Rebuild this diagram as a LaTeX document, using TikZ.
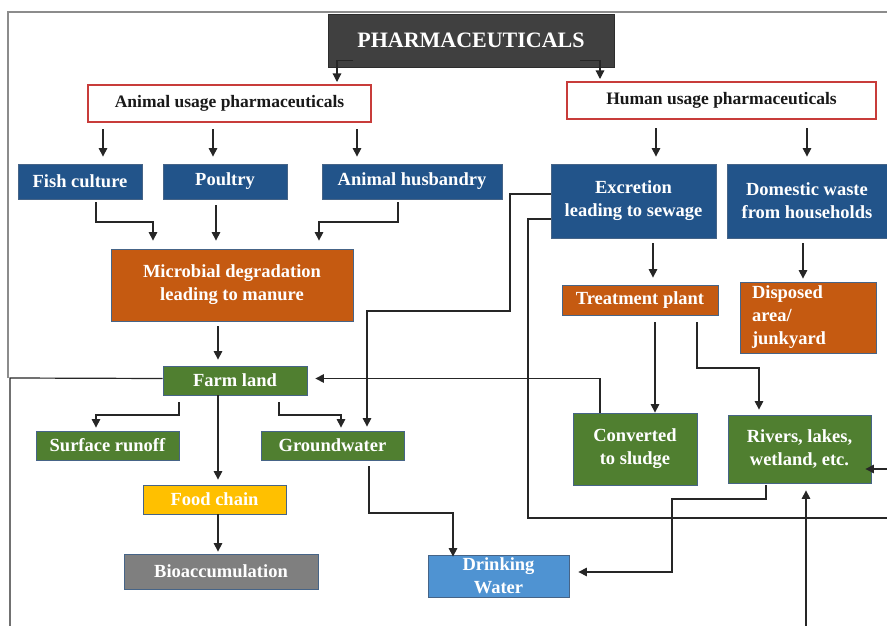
\documentclass[tikz,border=0pt]{standalone}
\usepackage{fontspec}
\setmainfont{Liberation Serif}
\usetikzlibrary{arrows.meta}
\definecolor{navy}{RGB}{34,84,138}
\definecolor{rust}{RGB}{197,90,17}
\definecolor{leaf}{RGB}{80,127,48}
\definecolor{gold}{RGB}{255,192,0}
\definecolor{ash}{RGB}{127,127,127}
\definecolor{sky}{RGB}{79,147,210}
\definecolor{charcoal}{RGB}{64,64,64}
\definecolor{brick}{RGB}{200,60,58}
\definecolor{edgeblue}{RGB}{70,100,135}
\begin{document}
\begin{tikzpicture}[x=1pt,y=-1pt,
  bx/.style={draw=edgeblue, line width=0.8pt, text=white, font={\bfseries\fontsize{18.5}{23}\selectfont}, align=center, inner sep=0pt},
  ubox/.style={draw=brick, line width=2pt, fill=white, text=black!90, font={\bfseries\fontsize{17.5}{21}\selectfont}, inner sep=0pt, minimum height=37},
  arr/.style={-{Triangle[width=8.5pt,length=8.5pt]}, line width=1.2pt, draw=black!85},
  wire/.style={line width=1.2pt, draw=black!85},
  gapa/.style={shorten <=6pt, shorten >=7pt},
]
\useasboundingbox (0,0) rectangle (887,626);
\clip (0,0) rectangle (887,626);
\fill[white] (0,0) rectangle (887,626);
% frame
\draw[black!45, line width=1.2pt] (8,378) -- (8,12) -- (900,12);

% nodes
\node[bx, fill=charcoal, draw=charcoal!70!black, minimum width=286, minimum height=53, font={\bfseries\fontsize{22}{26}\selectfont}] (pharma) at (471,40.5) {PHARMACEUTICALS};
\node[ubox, minimum width=283] (animal) at (229.5,103.5) {Animal usage pharmaceuticals};
\node[ubox, minimum width=309] (human) at (721.5,100.5) {Human usage pharmaceuticals};

\node[bx, fill=navy, minimum width=124, minimum height=35] (fish) at (80,181.5) {Fish culture};
\node[bx, fill=navy, minimum width=124, minimum height=35] (poultry) at (225,181.5) {Poultry};
\node[bx, fill=navy, minimum width=180, minimum height=35] (husb) at (412,181.5) {Animal husbandry};
\node[bx, fill=navy, minimum width=165, minimum height=74] (excr) at (633.5,201) {Excretion\\leading to sewage};
\node[bx, fill=navy, minimum width=160, minimum height=74] (dom) at (807,201) {Domestic waste\\from households};

\node[bx, fill=rust, minimum width=242, minimum height=72] (micro) at (232,285) {Microbial degradation\\leading to manure};
\node[bx, fill=rust, minimum width=156, minimum height=30] (treat) at (640,300) {Treatment plant};
\node[bx, fill=rust, text width=112pt, inner xsep=12pt, minimum height=71, align=left] (disp) at (808,317.5) {Disposed\\area/\\junkyard};

\node[bx, fill=leaf, minimum width=144, minimum height=29] (farm) at (235,380.5) {Farm land};
\node[bx, fill=leaf, minimum width=143, minimum height=29] (surf) at (107.5,445.5) {Surface runoff};
\node[bx, fill=leaf, minimum width=143, minimum height=29] (gw) at (332.5,445.5) {Groundwater};
\node[bx, fill=gold, minimum width=143, minimum height=29] (food) at (214.5,499.5) {Food chain};
\node[bx, fill=ash, minimum width=194, minimum height=35] (bio) at (221,571.5) {Bioaccumulation};
\node[bx, fill=sky, minimum width=141, minimum height=42] (drink) at (498.5,576) {Drinking\\Water};
\node[bx, fill=leaf, minimum width=124, minimum height=72] (conv) at (635,449) {Converted\\to sludge};
\node[bx, fill=leaf, minimum width=143, minimum height=68] (rivers) at (799.5,449) {Rivers, lakes,\\wetland, etc.};

% connectors from top
\draw[arr, shorten >=2pt] ([xshift=-118,yshift=7]pharma.south) -| (337,0 |- animal.north);
\draw[arr, shorten >=2pt] ([xshift=109,yshift=7]pharma.south) -| (600,0 |- human.north);
\foreach \x/\t in {103/fish,213/poultry,357/husb}
  \draw[arr, gapa] (\x,0 |- animal.south) -- (\x,0 |- \t.north);
\foreach \x/\t in {656/excr,807/dom}
  \draw[arr, shorten <=8pt, shorten >=7pt] (\x,0 |- human.south) -- (\x,0 |- \t.north);

% to microbial
\draw[arr, shorten <=3pt, shorten >=8pt] (96,0 |- fish.south) -- (96,222) -| (153,0 |- micro.north);
\draw[arr, shorten <=6pt, shorten >=8pt] (216,0 |- poultry.south) -- (216,0 |- micro.north);
\draw[arr, shorten <=3pt, shorten >=8pt] (398,0 |- husb.south) -- (398,222) -| (319,0 |- micro.north);
\draw[arr, shorten <=5pt, shorten >=6pt] (218,0 |- micro.south) -- (218,0 |- farm.north);

% from farm land
\draw[arr, shorten <=7pt, shorten >=3pt] (179,0 |- farm.south) -- (179,415) -| (96,0 |- surf.north);
\draw[arr, shorten <=7pt, shorten >=3pt] (279,0 |- farm.south) -- (279,415) -| (341,0 |- gw.north);
\draw[arr, shorten >=5pt] (218,0 |- farm.south) -- (218,0 |- food.north);
\draw[arr, shorten >=2pt] (218,0 |- food.south) -- (218,0 |- bio.north);
\draw[wire] ([yshift=2]farm.west) -- (10,378) -- (10,640);

% converted to farm
\draw[arr, shorten >=8pt] (600,0 |- conv.north) |- ([yshift=2]farm.east);

% excretion connectors
\draw[arr, shorten >=4pt] ([yshift=7]excr.west) -| (510,311) -| (367,0 |- gw.north);
\draw[arr, shorten >=-6pt] ([yshift=-18]excr.west) -| (528,518) -| (905,469) -- ([yshift=-20]rivers.east);

% human side
\draw[arr, shorten <=5pt, shorten >=7pt] (653,0 |- excr.south) -- (653,0 |- treat.north);
\draw[arr, shorten <=5pt, shorten >=3pt] (803,0 |- dom.south) -- (803,0 |- disp.north);
\draw[arr, shorten <=7pt] (655,0 |- treat.south) -- (655,0 |- conv.north);
\draw[arr, shorten <=7pt, shorten >=5pt] (697,0 |- treat.south) -- (697,368) -| (759,0 |- rivers.north);

% to drinking water
\draw[arr, shorten <=2pt, shorten >=9pt] (766,0 |- rivers.south) -- (766,499) -| (672,572) -- ([yshift=4]drink.east);
\draw[arr, shorten <=6pt, shorten >=-2pt] (369,0 |- gw.south) -- (369,513) -| (453,0 |- drink.north);

% from below to rivers
\draw[arr, shorten >=7pt] (806,640) -- (806,0 |- rivers.south);
\end{tikzpicture}
\end{document}
